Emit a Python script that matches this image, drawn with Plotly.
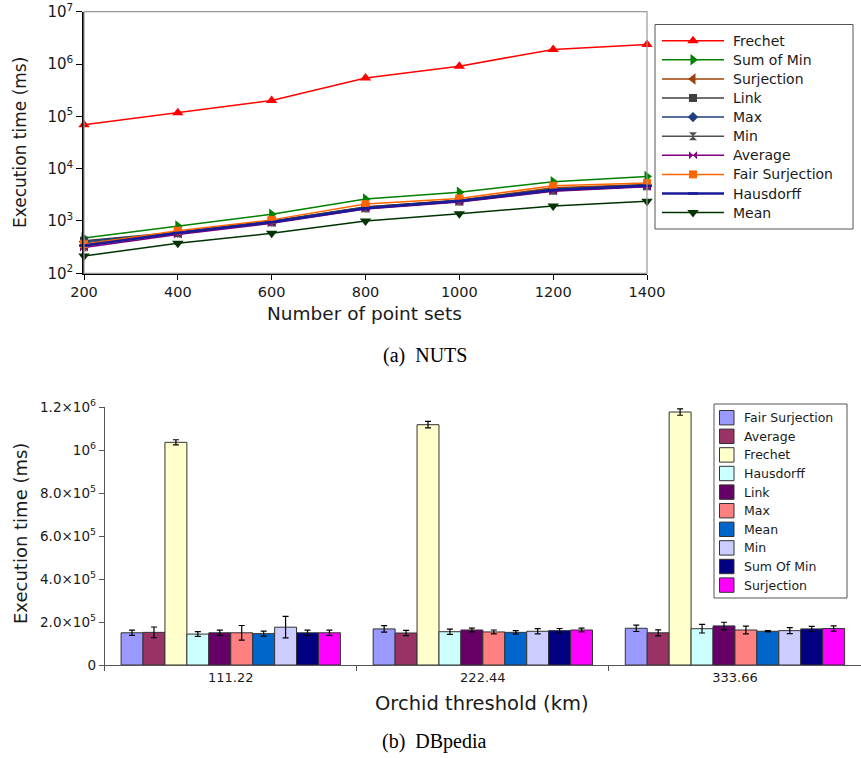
import plotly.graph_objects as go

# ---------------- Top chart (NUTS) ----------------
point_sets = [200, 400, 600, 800, 1000, 1200, 1400]
frechet = [69000, 117000, 200000, 540000, 910000, 1900000, 2370000]
sum_of_min = [475, 800, 1340, 2630, 3550, 5630, 7070]
surjection = [330, 600, 980, 1850, 2500, 4300, 5000]
link = [420, 610, 1000, 1850, 2500, 4100, 4900]
max_ = [400, 600, 980, 1800, 2450, 4000, 4800]
min_ = [380, 580, 950, 1750, 2350, 3800, 4600]
average = [310, 550, 900, 1700, 2300, 3700, 4500]
fair_surjection = [360, 650, 1050, 2100, 2700, 4700, 5300]
hausdorff = [340, 590, 950, 1750, 2400, 3900, 4700]
mean = [214, 375, 582, 1000, 1380, 1940, 2380]

y_tick_vals = [1e2, 1e3, 1e4, 1e5, 1e6, 1e7]
y_tick_text = ["10<sup>2</sup>", "10<sup>3</sup>", "10<sup>4</sup>", "10<sup>5</sup>", "10<sup>6</sup>", "10<sup>7</sup>"]

# ---------------- Bottom chart (DBpedia) ----------------
thresholds = ["111.22", "222.44", "333.66"]
bar_names = ["Fair Surjection", "Average", "Frechet", "Hausdorff", "Link", "Max", "Mean", "Min", "Sum Of Min", "Surjection"]
bar_values = [
    [150000, 168000, 171000],
    [152000, 149000, 150000],
    [1037000, 1119000, 1178000],
    [144000, 155000, 169000],
    [150000, 163000, 182000],
    [150000, 154000, 163000],
    [146000, 152000, 157000],
    [176000, 157000, 160000],
    [150000, 160000, 168000],
    [150000, 163000, 170000],
]
bar_errors = [
    [12000, 15000, 15000],
    [25000, 12000, 14000],
    [12000, 15000, 15000],
    [11000, 12000, 20000],
    [12000, 9000, 17000],
    [34000, 9000, 18000],
    [12000, 8000, 3000],
    [50000, 12000, 14000],
    [12000, 10000, 12000],
    [12000, 9000, 12000],
]
bar_colors = ["#9999FF", "#993366", "#FFFFCC", "#CCFFFF", "#660066", "#FF8080", "#0066CC", "#CCCCFF", "#000080", "#FF00FF"]
bar_tick_vals = [0, 2e5, 4e5, 6e5, 8e5, 1e6, 1.2e6]
bar_tick_text = ["0", "2.0×10<sup>5</sup>", "4.0×10<sup>5</sup>", "6.0×10<sup>5</sup>", "8.0×10<sup>5</sup>", "10<sup>6</sup>", "1.2×10<sup>6</sup>"]

W, H = 861, 758
FONT = "DejaVu Sans"
TXT = "#1a1a1a"

fig = go.Figure()

line_series = [
    ("Frechet", frechet, "#FF0000", "triangle-up", 10, 1.5),
    ("Sum of Min", sum_of_min, "#008000", "triangle-right", 10, 1.5),
    ("Surjection", surjection, "#A0400A", "triangle-left", 10, 1.5),
    ("Link", link, "#404040", "square", 8, 1.5),
    ("Max", max_, "#1F3F7F", "diamond", 8, 1.5),
    ("Min", min_, "#505050", "hourglass", 8, 1.5),
    ("Average", average, "#800080", "bowtie", 8, 1.5),
    ("Fair Surjection", fair_surjection, "#FF6600", "square", 8, 1.5),
    ("Hausdorff", hausdorff, "#1A1A99", "line-ew", 7, 2.5),
    ("Mean", mean, "#003300", "triangle-down", 10, 1.5),
]
for name, vals, col, sym, size, lw in line_series:
    fig.add_trace(go.Scatter(
        x=point_sets, y=vals, name=name, mode="lines+markers",
        line=dict(color=col, width=lw),
        marker=dict(symbol=sym, size=size, color=col,
                    line=dict(color=col, width=2.5 if sym == "line-ew" else 0)),
        cliponaxis=False, xaxis="x", yaxis="y", showlegend=False,
    ))

for name, vals, errs, col in zip(bar_names, bar_values, bar_errors, bar_colors):
    fig.add_trace(go.Bar(
        x=thresholds, y=vals, name=name,
        marker=dict(color=col, line=dict(color="#333333", width=1)),
        error_y=dict(type="data", array=errs, color="black", thickness=1.2, width=3),
        xaxis="x2", yaxis="y2", showlegend=False,
    ))

# ---------- legends drawn on a pixel-space overlay axis ----------
shapes = []
annotations = []

# top legend
LX0, LX1, LY0, LY1 = 655, 853, 24.5, 229
shapes.append(dict(type="rect", xref="x3", yref="y3", x0=LX0, x1=LX1, y0=LY0, y1=LY1,
                   line=dict(color="#555555", width=1), fillcolor="white", layer="below"))
for i, (name, vals, col, sym, size, lw) in enumerate(line_series):
    yy = 40.7 + i * 19.1
    fig.add_trace(go.Scatter(
        x=[662, 693, 724], y=[yy, yy, yy], mode="lines", line=dict(color=col, width=lw),
        xaxis="x3", yaxis="y3", showlegend=False, hoverinfo="skip", cliponaxis=False,
    ))
    fig.add_trace(go.Scatter(
        x=[693], y=[yy], mode="markers",
        marker=dict(symbol=sym, size=size, color=col,
                    line=dict(color=col, width=2.5 if sym == "line-ew" else 0)),
        xaxis="x3", yaxis="y3", showlegend=False, hoverinfo="skip", cliponaxis=False,
    ))
    annotations.append(dict(text=name, x=731, y=yy, xref="x3", yref="y3", xanchor="left",
                            yanchor="middle", showarrow=False,
                            font=dict(family=FONT, size=14, color=TXT)))

# bottom legend
BX0, BX1, BY0, BY1 = 714, 847, 404, 598
shapes.append(dict(type="rect", xref="x3", yref="y3", x0=BX0, x1=BX1, y0=BY0, y1=BY1,
                   line=dict(color="#555555", width=1), fillcolor="white", layer="above"))
for i, (name, col) in enumerate(zip(bar_names, bar_colors)):
    yy = 417.7 + i * 18.6
    shapes.append(dict(type="rect", xref="x3", yref="y3", x0=719.5, x1=734, y0=yy - 7.2, y1=yy + 7.2,
                       line=dict(color="#333333", width=1), fillcolor=col, layer="above"))
    annotations.append(dict(text=name, x=741.5, y=yy, xref="x3", yref="y3", xanchor="left",
                            yanchor="middle", showarrow=False,
                            font=dict(family=FONT, size=12.5, color=TXT)))

# frame of top plot (grey top/right)
shapes.append(dict(type="rect", xref="x3", yref="y3", x0=84, x1=647, y0=11.7, y1=273.3,
                   line=dict(color="#999999", width=1.2), layer="below"))

# axis titles and captions
annotations += [
    dict(text="Number of point sets", x=364, y=313, xref="x3", yref="y3", showarrow=False,
         font=dict(family=FONT, size=18.5, color=TXT)),
    dict(text="Execution time (ms)", x=20, y=143, xref="x3", yref="y3", showarrow=False, textangle=-90,
         font=dict(family=FONT, size=17, color=TXT)),
    dict(text="Orchid threshold (km)", x=482, y=703, xref="x3", yref="y3", showarrow=False,
         font=dict(family=FONT, size=19.5, color=TXT)),
    dict(text="Execution time (ms)", x=20, y=534, xref="x3", yref="y3", showarrow=False, textangle=-90,
         font=dict(family=FONT, size=18, color=TXT)),
    dict(text="(a)\u00a0\u00a0NUTS", x=425, y=355, xref="x3", yref="y3", showarrow=False,
         font=dict(family="Liberation Serif", size=20, color="black")),
    dict(text="(b)\u00a0\u00a0DBpedia", x=434.5, y=741, xref="x3", yref="y3", showarrow=False,
         font=dict(family="Liberation Serif", size=20, color="black")),
]

def px_x(v):
    return v / W

def px_y(v):
    return 1 - v / H

fig.update_layout(
    width=W, height=H,
    margin=dict(l=0, r=0, t=0, b=0),
    paper_bgcolor="white", plot_bgcolor="rgba(0,0,0,0)",
    font=dict(family=FONT, size=14, color=TXT),
    barmode="group", bargap=0.13, bargroupgap=0,
    showlegend=False,
    xaxis=dict(
        domain=[px_x(84), px_x(647)], anchor="y", range=[200, 1400], automargin=False,
        tickvals=point_sets, ticks="outside", ticklen=5, tickcolor="black",
        showline=True, linecolor="black", linewidth=1.5, showgrid=False, zeroline=False,
        tickfont=dict(size=14.5),
    ),
    yaxis=dict(
        domain=[px_y(273.3), px_y(11.7)], anchor="x", type="log", range=[2, 7], automargin=False,
        tickvals=y_tick_vals, ticktext=y_tick_text, ticks="outside", ticklen=6, tickcolor="black",
        showline=True, linecolor="black", linewidth=1.5, showgrid=False, zeroline=False,
        tickfont=dict(size=15),
    ),
    xaxis2=dict(
        domain=[px_x(104.7), 1.0], anchor="y2", range=[-0.5, 2.5], automargin=False,
        ticks="outside", tickson="boundaries", ticklen=5, tickcolor="#555555",
        showline=True, linecolor="#555555", linewidth=1, showgrid=False, zeroline=False,
        tickfont=dict(size=13),
    ),
    yaxis2=dict(
        domain=[px_y(665), px_y(407.3)], anchor="x2", range=[0, 1.2e6], automargin=False,
        tickvals=bar_tick_vals, ticktext=bar_tick_text, ticks="outside", ticklen=5, tickcolor="#555555",
        showline=True, linecolor="#555555", linewidth=1, showgrid=False, zeroline=False,
        tickfont=dict(size=13.5),
    ),
    xaxis3=dict(domain=[0, 1], anchor="y3", range=[0, W], visible=False, fixedrange=True),
    yaxis3=dict(domain=[0, 1], anchor="x3", range=[H, 0], visible=False, fixedrange=True),
    shapes=shapes,
    annotations=annotations,
)

fig.write_html(
    "out.html",
    config={"displayModeBar": False},
    post_script="document.body.style.margin='0';document.body.style.padding='0';",
)
